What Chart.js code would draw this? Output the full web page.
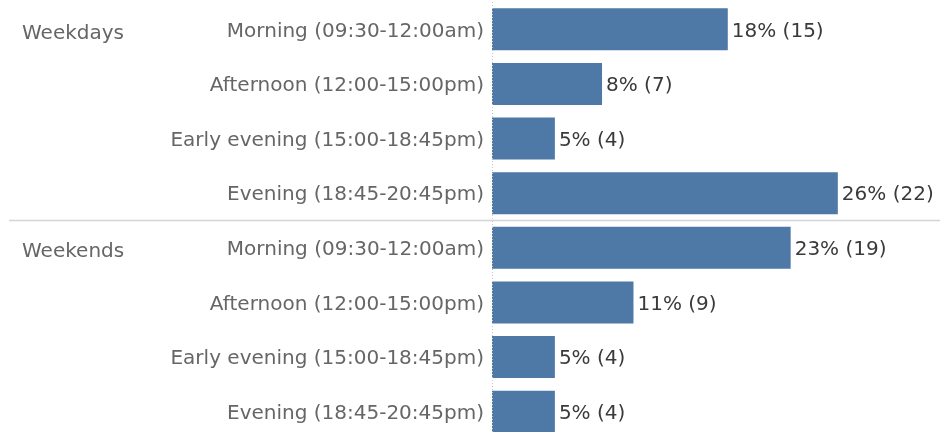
<!DOCTYPE html>
<html>
<head>
<meta charset="utf-8">
<script src="https://cdn.jsdelivr.net/npm/chart.js@4.4.0/dist/chart.umd.min.js"></script>
<style>
    html, body { margin: 0; padding: 0; background: #fff; overflow: hidden; }
    #wrap { width: 940px; height: 440px; position: relative; }
</style>
</head>
<body>
<div id="wrap"><canvas id="timeChart"></canvas></div>
<script>
// Groups shown at the left, each covering four time slots
var groups = ['Weekdays', 'Weekends'];
// Time slot labels (repeated for each group)
var slots = [
    'Morning (09:30-12:00am)', 'Afternoon (12:00-15:00pm)',
    'Early evening (15:00-18:45pm)', 'Evening (18:45-20:45pm)'
];
// Counts per slot, weekdays first then weekends
var counts = [15, 7, 4, 22, 19, 9, 4, 4];
// Percentage of total, as printed next to each bar
var percents = [18, 8, 5, 26, 23, 11, 5, 5];

var barColour = '#4E79A7';
var fontFamily = '"DejaVu Sans", sans-serif';

var labels = [];
for (var g = 0; g < groups.length; g++) {
    for (var s = 0; s < slots.length; s++) {
        labels.push(slots[s]);
    }
}

// Draws group names, separator, zero line and value labels
var decorations = {
    id: 'decorations',
    afterDatasetsDraw: function(chart) {
        var ctx = chart.ctx;
        var yScale = chart.scales.y;
        var area = chart.chartArea;
        var meta = chart.getDatasetMeta(0);
        ctx.save();

        // dotted zero line
        ctx.strokeStyle = '#c8c8c8';
        ctx.lineWidth = 1;
        ctx.setLineDash([1, 2]);
        ctx.beginPath();
        ctx.moveTo(area.left + 0.5, area.top);
        ctx.lineTo(area.left + 0.5, area.bottom);
        ctx.stroke();
        ctx.setLineDash([]);

        // separator between the groups
        var sepY = (yScale.getPixelForValue(3) + yScale.getPixelForValue(4)) / 2;
        ctx.strokeStyle = '#d4d4d4';
        ctx.lineWidth = 1.5;
        ctx.beginPath();
        ctx.moveTo(9, sepY);
        ctx.lineTo(chart.width, sepY);
        ctx.stroke();

        // group names
        ctx.font = '20px ' + fontFamily;
        ctx.fillStyle = '#666666';
        ctx.textAlign = 'left';
        ctx.textBaseline = 'middle';
        for (var g = 0; g < groups.length; g++) {
            ctx.fillText(groups[g], 22, yScale.getPixelForValue(g * slots.length) + 4);
        }

        // value labels
        ctx.fillStyle = '#3a3a3a';
        meta.data.forEach(function(bar, i) {
            ctx.fillText(percents[i] + '% (' + counts[i] + ')', bar.x + 4, bar.y + 2);
        });
        ctx.restore();
    }
};

var ctx = document.getElementById('timeChart').getContext('2d');
var timeChart = new Chart(ctx, {
    type: 'bar',
    data: {
        labels: labels,
        datasets: [{
            data: counts,
            backgroundColor: barColour,
            borderWidth: 0,
            barPercentage: 0.77,
            categoryPercentage: 1
        }]
    },
    plugins: [decorations],
    options: {
        indexAxis: 'y',
        responsive: true,
        maintainAspectRatio: false,
        animation: false,
        layout: { padding: { top: 2, bottom: 1, left: 0, right: 0 } },
        plugins: {
            legend: { display: false },
            tooltip: { enabled: false }
        },
        scales: {
            x: {
                display: false,
                min: 0,
                max: 28.5
            },
            y: {
                grid: { display: false },
                border: { display: false },
                ticks: {
                    color: '#666666',
                    padding: 0,
                    labelOffset: 2,
                    font: { family: fontFamily, size: 20 }
                },
                afterFit: function(scale) {
                    scale.width = 492;
                    scale.paddingTop = 0;
                    scale.paddingBottom = 0;
                }
            }
        }
    }
});
</script>
</body>
</html>
